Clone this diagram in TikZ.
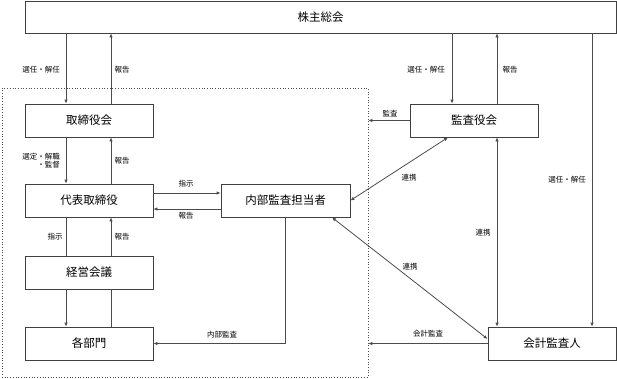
\documentclass[tikz,border=0pt]{standalone}
\usepackage{fontspec}
\setmainfont{Noto Sans CJK JP}
\usetikzlibrary{arrows.meta,calc}
\begin{document}
\begin{tikzpicture}[x=1pt,y=-1pt,
  box/.style={draw=black!75,line width=0.8pt,minimum width=128pt,minimum height=33pt,inner sep=0pt,font=\fontsize{11.5}{12}\selectfont},
  lbl/.style={font=\fontsize{7.5}{8}\selectfont,inner sep=1pt,align=left},
  ln/.style={draw=black!70,line width=0.8pt},
  arr/.style={ln,-{Latex[length=4pt,width=3.5pt]}},
  barr/.style={ln,{Latex[length=4pt,width=3.5pt]}-{Latex[length=4pt,width=3.5pt]}}]
\useasboundingbox (0,0) rectangle (617,378);
% dotted internal box
\node[draw=black!70,dotted,line width=0.7pt,minimum width=366pt,minimum height=289pt,inner sep=0pt] (ib) at (185,232.5) {};
% boxes
\node[box,minimum width=591pt,minimum height=32pt] (sh) at (320.5,17) {株主総会};
\node[box] (tb) at (89,120.5) {取締役会};
\node[box] (dh) at (89,200.5) {代表取締役};
\node[box] (km) at (89,272.5) {経営会議};
\node[box] (bm) at (89,343.5) {各部門};
\node[box,minimum width=129pt] (na) at (285.5,200.5) {内部監査担当者};
\node[box] (kk) at (474,120.5) {監査役会};
\node[box] (ka) at (552,343.5) {会計監査人};
% x positions
\coordinate (xA) at (66,0);
\coordinate (xB) at (111,0);
\coordinate (xC) at (452,0);
\coordinate (xD) at (497,0);
\coordinate (xE) at (592,0);
% left column
\draw[arr] (sh.south -| xA) -- (tb.north -| xA);
\draw[arr] (tb.north -| xB) -- (sh.south -| xB);
\node[lbl] (l1) at (41,70) {選任・解任};
\node[lbl] (l2) at (122,70) {報告};
\draw[arr] (tb.south -| xA) -- (dh.north -| xA);
\draw[arr] (dh.north -| xB) -- (tb.south -| xB);
\node[lbl,align=right] (l3) at (41,161) {選定・解職\\・監督};
\node[lbl] (l4) at (122,161) {報告};
\draw[ln] (dh.south -| xA) -- (km.north -| xA);
\draw[arr] (km.north -| xB) -- (dh.south -| xB);
\node[lbl] (l5) at (55,237) {指示};
\node[lbl] (l6) at (122,237) {報告};
\draw[arr] (km.south -| xA) -- (bm.north -| xA);
\draw[ln] (bm.north -| xB) -- (km.south -| xB);
% 代表取締役 <-> 内部監査担当者
\draw[arr] ([yshift=7.5pt]dh.east) -- ([yshift=7.5pt]dh.east -| na.west);
\draw[arr] ([yshift=-8.5pt]na.west) -- ([yshift=-8.5pt]na.west -| dh.east);
\node[lbl] (l7) at (186,184) {指示};
\node[lbl] (l8) at (186,216) {報告};
\draw[arr] (na.south) |- (bm.east);
\node[lbl] (l9) at (222,335) {内部監査};
% right side
\draw[arr] (sh.south -| xC) -- (kk.north -| xC);
\draw[arr] (kk.north -| xD) -- (sh.south -| xD);
\node[lbl] (l10) at (426,70) {選任・解任};
\node[lbl] (l11) at (510,70) {報告};
\draw[arr] (kk.west) -- (kk.west -| ib.east);
\node[lbl] (l12) at (390,114) {監査};
\draw[barr] ([xshift=-26pt]kk.south) -- (na.east);
\node[lbl] (l13) at (409,178) {連携};
\draw[barr] (kk.south -| xD) -- (ka.north -| xD);
\node[lbl] (l14) at (483,233) {連携};
\draw[arr] (sh.south -| xE) -- (ka.north -| xE);
\node[lbl] (l15) at (567,180) {選任・解任};
\draw[barr] ([xshift=46.5pt]na.south) -- ([yshift=4.5pt]ka.west);
\node[lbl] (l16) at (410,267) {連携};
\draw[arr] (ka.west) -- (ka.west -| ib.east);
\node[lbl] (l17) at (428,334) {会計監査};
\end{tikzpicture}
\end{document}
